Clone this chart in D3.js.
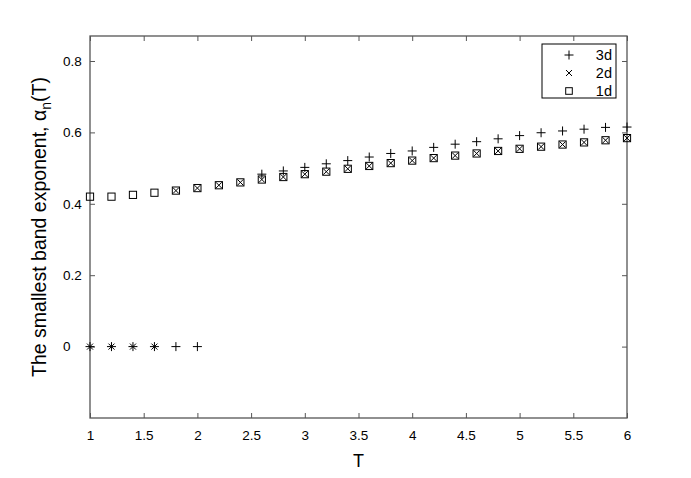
<!DOCTYPE html>
<html>
<head>
<meta charset="utf-8">
<script src="https://cdn.jsdelivr.net/npm/d3@7"></script>
<style>
  body { margin: 0; background: #fff; }
  svg { display: block; font-family: "Liberation Sans", Arial, Helvetica, sans-serif; }
</style>
</head>
<body>
<svg id="chart" width="691" height="478"></svg>
<script>
const T = [1,1.2,1.4,1.6,1.8,2,2.2,2.4,2.6,2.8,3,3.2,3.4,3.6,3.8,4,4.2,4.4,4.6,4.8,5,5.2,5.4,5.6,5.8,6];
const alpha3d = [0,0,0,0,0,0,null,null,0.483,0.492,0.502,0.512,0.521,0.531,0.541,0.548,0.558,0.567,0.574,0.582,0.591,0.599,0.604,0.609,0.614,0.615];
const alpha2d = [0,0,0,0,0.437,0.444,0.452,0.460,0.468,0.475,0.483,0.490,0.498,0.506,0.514,0.521,0.528,0.535,0.541,0.548,0.554,0.560,0.566,0.572,0.578,0.584];
const alpha1d = [0.420,0.420,0.425,0.431,0.437,0.444,0.452,0.460,0.468,0.475,0.483,0.490,0.498,0.506,0.514,0.521,0.528,0.535,0.541,0.548,0.554,0.560,0.566,0.572,0.578,0.584];
const xTicks = [1,1.5,2,2.5,3,3.5,4,4.5,5,5.5,6];
const yTicks = [0,0.2,0.4,0.6,0.8];
const legendLabels = ["3d","2d","1d"];

const svg = d3.select("#chart");
const L = 90, R = 627, Tp = 36, B = 418;
const x = d3.scaleLinear().domain([1,6]).range([L,R]);
const y = d3.scaleLinear().domain([-0.2,0.87]).range([B,Tp]);
const axisColor = "#555";

// box
svg.append("rect").attr("x",L).attr("y",Tp).attr("width",R-L).attr("height",B-Tp)
  .attr("fill","none").attr("stroke",axisColor).attr("stroke-width",1.3);

function styleAxis(g, showLabels){
  g.select(".domain").remove();
  g.selectAll(".tick line").attr("stroke",axisColor).attr("stroke-width",1);
  g.selectAll(".tick text").attr("fill","#000").attr("font-size",13.5)
    .style("display", showLabels ? null : "none");
}
const tl = 5;
svg.append("g").attr("transform",`translate(0,${B})`)
  .call(d3.axisBottom(x).tickValues(xTicks).tickSize(-tl).tickPadding(12).tickFormat(d3.format("")))
  .call(g=>styleAxis(g,true));
svg.append("g").attr("transform",`translate(0,${Tp})`)
  .call(d3.axisTop(x).tickValues(xTicks).tickSize(-tl).tickFormat(""))
  .call(g=>styleAxis(g,false));
svg.append("g").attr("transform",`translate(${L},0)`)
  .call(d3.axisLeft(y).tickValues(yTicks).tickSize(-tl).tickFormat(d=> d===0?"0":d3.format(".1f")(d)))
  .call(g=>styleAxis(g,true))
  .call(g=>g.selectAll(".tick text").attr("text-anchor","start").attr("x",-27));
svg.append("g").attr("transform",`translate(${R},0)`)
  .call(d3.axisRight(y).tickValues(yTicks).tickSize(-tl).tickFormat(""))
  .call(g=>styleAxis(g,false));

// markers
function plus(g, cx, cy, s){
  g.append("path").attr("d",`M${cx-s},${cy}H${cx+s}M${cx},${cy-s}V${cy+s}`)
    .attr("stroke","#000").attr("stroke-width",1).attr("fill","none");
}
function cross(g, cx, cy, s){
  g.append("path").attr("d",`M${cx-s},${cy-s}L${cx+s},${cy+s}M${cx-s},${cy+s}L${cx+s},${cy-s}`)
    .attr("stroke","#000").attr("stroke-width",1).attr("fill","none");
}
function square(g, cx, cy, s){
  g.append("rect").attr("x",cx-s).attr("y",cy-s).attr("width",2*s).attr("height",2*s)
    .attr("stroke","#000").attr("stroke-width",1).attr("fill","none");
}
const marks = svg.append("g");
T.forEach((t,i)=>{
  if(alpha1d[i]!=null) square(marks, x(t), y(alpha1d[i]), 3.6);
  if(alpha2d[i]!=null) cross(marks, x(t), y(alpha2d[i]), 3);
  if(alpha3d[i]!=null) plus(marks, x(t), y(alpha3d[i]), 4.5);
});

// legend
const lg = svg.append("g");
lg.append("rect").attr("x",542).attr("y",44).attr("width",74).attr("height",54)
  .attr("fill","#fff").attr("stroke","#000").attr("stroke-width",1);
const fns = [plus, cross, square];
const sizes = [4.5,3,3.3];
legendLabels.forEach((lab,i)=>{
  const cy = 55 + i*18;
  fns[i](lg, 569, cy, sizes[i]);
  lg.append("text").attr("x",612).attr("y",cy+5).attr("text-anchor","end")
    .attr("font-size",14.5).text(lab);
});

// axis labels
svg.append("text").attr("x",(L+R)/2).attr("y",467).attr("text-anchor","middle")
  .attr("font-size",18).text("T");
const yl = svg.append("text").attr("transform",`translate(46,${(Tp+B)/2}) rotate(-90)`)
  .attr("text-anchor","middle").attr("font-size",19.5);
yl.append("tspan").text("The smallest band exponent,  α");
yl.append("tspan").attr("font-size",14).attr("dy",5).text("n");
yl.append("tspan").attr("dy",-5).text("(T)");
</script>
</body>
</html>
